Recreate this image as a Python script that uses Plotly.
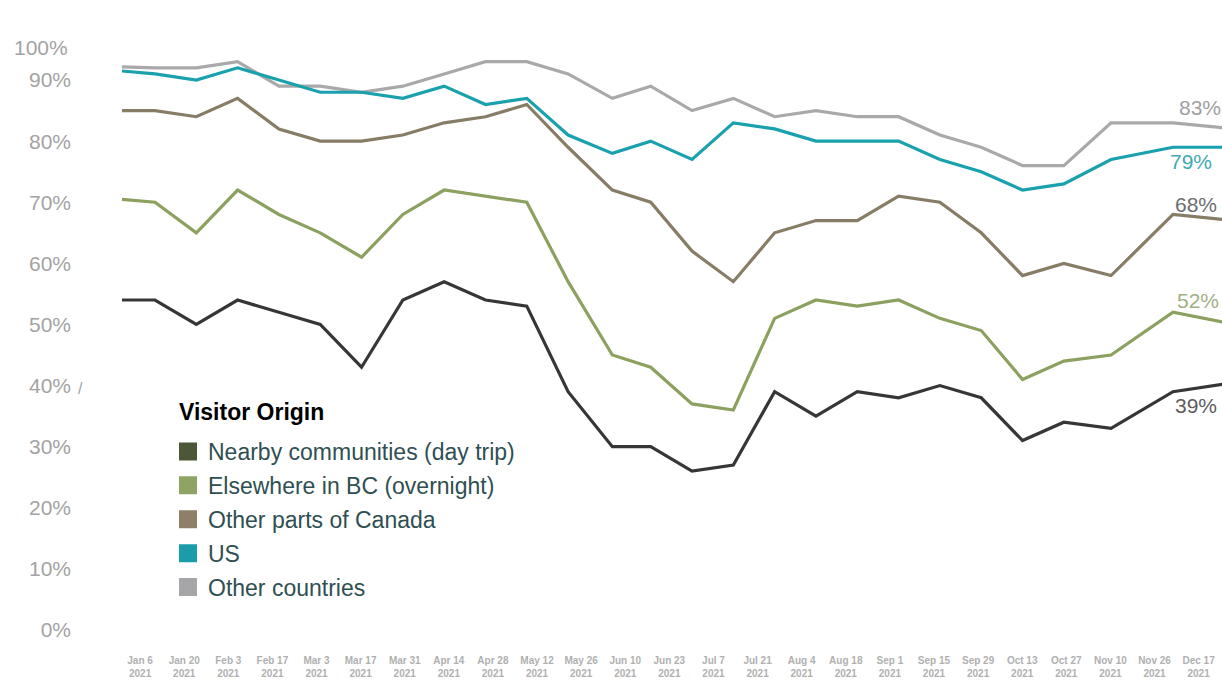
import plotly.graph_objects as go

# Survey dates (biweekly, plus one point on each side of the visible window)
dates = [
    "2020-12-23", "2021-01-06", "2021-01-20", "2021-02-03", "2021-02-17",
    "2021-03-03", "2021-03-17", "2021-03-31", "2021-04-14", "2021-04-28",
    "2021-05-12", "2021-05-26", "2021-06-10", "2021-06-23", "2021-07-07",
    "2021-07-21", "2021-08-04", "2021-08-18", "2021-09-01", "2021-09-15",
    "2021-09-29", "2021-10-13", "2021-10-27", "2021-11-10", "2021-11-26",
    "2021-12-17", "2022-01-07",
]

nearby = [54, 54, 50, 54, 52, 50, 43, 54, 57, 54, 53, 39, 30, 30, 26, 27,
          39, 35, 39, 38, 40, 38, 31, 34, 33, 39, 40.5]
elsewhere_bc = [70.6, 70, 65, 72, 68, 65, 61, 68, 72, 71, 70, 57, 45, 43, 37, 36,
                51, 54, 53, 54, 51, 49, 41, 44, 45, 52, 50]
other_canada = [85, 85, 84, 87, 82, 80, 80, 81, 83, 84, 86, 79, 72, 70, 62, 57,
                65, 67, 67, 71, 70, 65, 58, 60, 58, 68, 67]
us = [91.6, 91, 90, 92, 90, 88, 88, 87, 89, 86, 87, 81, 78, 80, 77, 83,
      82, 80, 80, 80, 77, 75, 72, 73, 77, 79, 79]
other_countries = [92.2, 92, 92, 93, 89, 89, 88, 89, 91, 93, 93, 91, 87, 89, 85, 87,
                   84, 85, 84, 84, 81, 79, 76, 76, 83, 83, 82]

# Axis labels shown under the chart
tick_labels = ["Jan 6", "Jan 20", "Feb 3", "Feb 17", "Mar 3", "Mar 17", "Mar 31",
               "Apr 14", "Apr 28", "May 12", "May 26", "Jun 10", "Jun 23", "Jul 7",
               "Jul 21", "Aug 4", "Aug 18", "Sep 1", "Sep 15", "Sep 29", "Oct 13",
               "Oct 27", "Nov 10", "Nov 26", "Dec 17"]
tick_year = "2021"
y_ticks = [0, 10, 20, 30, 40, 50, 60, 70, 80, 90]

series_names = ["Nearby communities (day trip)", "Elsewhere in BC (overnight)",
                "Other parts of Canada", "US", "Other countries"]
series_values = [nearby, elsewhere_bc, other_canada, us, other_countries]
line_colors = ["#363636", "#8ca05f", "#877c66", "#1aa1ae", "#a9a9ac"]
swatch_colors = ["#4b5737", "#8fa463", "#8e8068", "#1a9cab", "#a6a6a8"]
end_label_colors = ["#5d5d5d", "#9fb084", "#6e6e6e", "#41a9b3", "#a0a0a0"]
end_label_shift = [-14, 12, 10, -14, 15]
end_label_xshift = [0, 2, 0, -5, 4]

FONT = "Liberation Sans, Arial, sans-serif"

fig = go.Figure()

# Lines, drawn back to front so the darker series sit on top
for name, vals, col in reversed(list(zip(series_names, series_values, line_colors))):
    fig.add_trace(go.Scatter(
        x=dates, y=vals, mode="lines", name=name,
        line=dict(color=col, width=3.2), showlegend=False, hoverinfo="skip",
    ))

# Square legend swatches
for i, (name, col) in enumerate(zip(series_names, swatch_colors)):
    fig.add_trace(go.Scatter(
        x=[None], y=[None], mode="markers", name=name, legendgroup=f"g{i}",
        marker=dict(symbol="square", size=16, color=col,
                    line=dict(color=col, width=2)),
    ))

# Category positions for the date labels along the bottom
fig.add_trace(go.Scatter(
    x=list(range(len(tick_labels))), y=[None] * len(tick_labels),
    xaxis="x2", yaxis="y", mode="markers", showlegend=False, hoverinfo="skip",
))

# Percentage labels at the latest survey date
last_date = "2021-12-17"
for vals, col, ys, xs in zip(series_values, end_label_colors, end_label_shift, end_label_xshift):
    v = vals[dates.index(last_date)]
    fig.add_annotation(
        x=last_date, y=v, xref="x", yref="y", text=f"{v:.0f}%",
        showarrow=False, xanchor="left", yanchor="middle",
        xshift=xs, yshift=ys, font=dict(family=FONT, size=21, color=col),
    )

# Extra axis text
fig.add_annotation(x=-0.0473, y=(640 - 48) / 640, xref="paper", yref="paper",
                   text="100%", showarrow=False, xanchor="right", yanchor="middle",
                   font=dict(family=FONT, size=21, color="#a3a3a3"))
fig.add_annotation(x=-0.038, y=(640 - 388) / 640, xref="paper", yref="paper",
                   text="/", showarrow=False, xanchor="center", yanchor="middle",
                   font=dict(family=FONT, size=16, color="#a3a3a3"))
fig.add_annotation(x=(177 - 122) / 1100, y=(640 - 412) / 640, xref="paper", yref="paper",
                   text="<b>Visitor Origin</b>", showarrow=False,
                   xanchor="left", yanchor="middle",
                   font=dict(family=FONT, size=23, color="#000000"))

fig.update_layout(
    width=1222, height=681,
    margin=dict(l=122, r=0, t=0, b=41),
    paper_bgcolor="white", plot_bgcolor="white",
    font=dict(family=FONT),
    showlegend=True,
    legend=dict(
        x=(168 - 122) / 1100, y=(640 - 430) / 640, xanchor="left", yanchor="top",
        font=dict(family=FONT, size=23, color="#2f4f52"),
        bgcolor="rgba(0,0,0,0)", tracegroupgap=1, itemsizing="trace",
    ),
    xaxis=dict(
        type="date", range=["2020-12-25 19:40", "2022-01-02 14:30"],
        showgrid=False, zeroline=False, showline=False, showticklabels=False,
        ticks="",
    ),
    xaxis2=dict(
        overlaying="x", anchor="y", side="bottom",
        range=[-0.41, 24.53], tickmode="array",
        tickvals=list(range(len(tick_labels))),
        ticktext=[f"{t}<br>{tick_year}" for t in tick_labels],
        showgrid=False, zeroline=False, showline=False, ticks="",
        tickfont=dict(family=FONT, size=10, color="#b0b0b0", weight="bold"),
        ticklabelstandoff=13,
    ),
    yaxis=dict(
        range=[-1.64, 103.1], tickmode="array", tickvals=y_ticks,
        ticktext=[f"{v}%" for v in y_ticks],
        showgrid=False, zeroline=False, showline=False, ticks="",
        tickfont=dict(family=FONT, size=21, color="#a3a3a3"),
        ticklabelstandoff=50,
    ),
)

fig.write_html("out.html")
